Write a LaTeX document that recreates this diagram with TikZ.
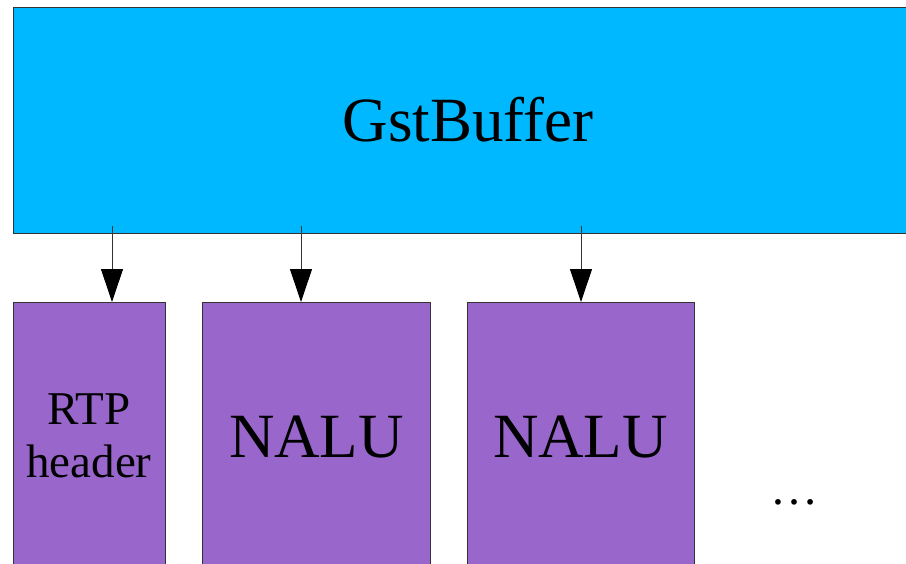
\documentclass[tikz,border=0pt]{standalone}
\usepackage{fontspec}
\setmainfont{Liberation Serif}
\usetikzlibrary{arrows.meta}
\definecolor{skyb}{HTML}{00B8FF}
\definecolor{lila}{HTML}{9966CC}
\definecolor{edge}{HTML}{333333}
\begin{document}
\begin{tikzpicture}[x=1pt,y=-1pt,
  bufbox/.style={draw=edge,line width=1.3pt,fill=skyb,inner sep=0pt,anchor=north west},
  partbox/.style={draw=edge,line width=1.3pt,fill=lila,inner sep=0pt,anchor=north west,minimum height=280pt},
  big/.style={font=\fontsize{63}{63}\selectfont,anchor=base,inner sep=0pt},
  mid/.style={font=\fontsize{47}{53}\selectfont,align=center,inner sep=0pt},
  conn/.style={draw=edge,line width=1pt,-{Triangle[width=22pt,length=33pt,color=black]}}]
\useasboundingbox (0,0) rectangle (906,563);
\node[bufbox,minimum width=910pt,minimum height=226pt] (buf) at (13,7) {};
\node[partbox,minimum width=151.5pt] (rtp) at (13,302) {};
\node[partbox,minimum width=228pt] (nalu1) at (202,302) {};
\node[partbox,minimum width=227pt] (nalu2) at (467,302) {};
\node[big] (buftext) at (468,141.7) {GstBuffer};
\node[mid,anchor=base] (rtptext) at (89,477) {RTP\\header};
\node[big] (n1text) at (316.5,457) {NALU};
\node[big] (n2text) at (580.5,457) {NALU};
\node[font=\fontsize{48}{48}\selectfont,inner sep=0pt,anchor=base] (dots) at (794,504) {…};
\coordinate (a1) at (112,226);
\coordinate (a2) at (301,226);
\coordinate (a3) at (581,226);
\draw[conn] (a1) -- (a1 |- rtp.north);
\draw[conn] (a2) -- (a2 |- nalu1.north);
\draw[conn] (a3) -- (a3 |- nalu2.north);
\end{tikzpicture}
\end{document}
